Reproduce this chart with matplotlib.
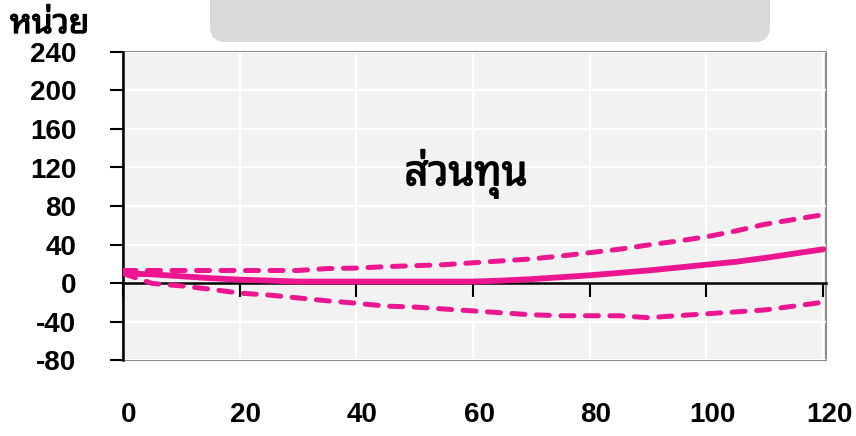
import matplotlib
matplotlib.use("Agg")
import matplotlib.pyplot as plt
import matplotlib.transforms as mtransforms
import matplotlib.patheffects as pe
from matplotlib.patches import FancyBboxPatch

# horizon (periods) and impulse response of equity with error bands
periods = [0, 5, 10, 15, 20, 25, 30, 35, 40, 45, 50, 55, 60,
           65, 70, 75, 80, 85, 90, 95, 100, 105, 110, 115, 120]
response = [10, 9, 7, 5, 3.5, 2.5, 1.5, 1.5, 1.5, 1.5, 1.5, 1.5, 1.5,
            2.5, 4, 6, 8, 10.5, 13, 16, 19, 22, 26, 30.5, 35]
upper = [13, 13, 13, 13, 13, 13, 13, 15, 15.5, 17, 18, 19, 21,
         23, 25, 28, 31.5, 35, 39.5, 43.5, 48, 54, 61, 66, 71]
lower = [10, -0.5, -3, -6.5, -10.5, -12.5, -15.5, -18.5, -21, -24, -25, -27, -29,
         -31, -33, -34, -34, -34, -36, -34, -32, -30, -28, -24, -20]

x_ticks = [0, 20, 40, 60, 80, 100, 120]
y_ticks = [-80, -40, 0, 40, 80, 120, 160, 200, 240]
unit_label = "หน่วย"
title = "ส่วนทุน"

pink = "#ec1790"
num_font = "Liberation Sans"
thai_font = ["Noto Sans Thai Looped", "Loma", "DejaVu Sans"]
# the looped Thai face only ships a regular weight here, so thicken it
heavy = [pe.withStroke(linewidth=1.0, foreground="black")]

fig = plt.figure(figsize=(8.56, 4.36), dpi=100)
ax = fig.add_axes([123 / 856, 76 / 436, 703 / 856, 308 / 436])

ax.set_xlim(0, 120.5)
ax.set_ylim(-80, 240)
ax.set_facecolor("#f2f2f2")
ax.patch.set_edgecolor("#8c8c8c")
ax.patch.set_linewidth(1.5)

ax.set_xticks(x_ticks)
ax.set_yticks(y_ticks)
ax.grid(True, color="white", linewidth=1.6)
ax.set_axisbelow(True)

for s in ["top", "right"]:
    ax.spines[s].set_visible(False)
ax.spines["left"].set_linewidth(1.8)
ax.spines["left"].set_color("black")
ax.spines["bottom"].set_position(("data", 0))
ax.spines["bottom"].set_linewidth(1.8)
ax.spines["bottom"].set_color("black")

ax.tick_params(axis="x", direction="out", length=10, width=1.5,
               labelbottom=False)
ax.tick_params(axis="y", direction="out", length=9.5, width=1.5, pad=24)
ax.set_yticklabels([str(v) for v in y_ticks], fontfamily=num_font,
                   fontweight="bold", fontsize=20)

ax.plot(periods, response, color=pink, linewidth=4.2,
        solid_capstyle="round", solid_joinstyle="round", zorder=4)
for band in (upper, lower):
    ax.plot(periods, band, color=pink, linewidth=3.6, dashes=(2.6, 2.3),
            dash_capstyle="round", zorder=4)

# x labels sit well below the plot area
trans = mtransforms.blended_transform_factory(ax.transData, fig.transFigure)
trans = trans + mtransforms.ScaledTranslation(6 / 100, 0, fig.dpi_scale_trans)
for v in x_ticks:
    fig.text(v, 21 / 436, str(v), transform=trans, ha="center", va="center",
             fontfamily=num_font, fontweight="bold", fontsize=20)

fig.text(10 / 856, 1 - 33 / 436, unit_label, ha="left", va="baseline",
         family=thai_font, fontsize=24, path_effects=heavy)
ax.text(0.488, 0.605, title, transform=ax.transAxes, ha="center",
        va="center", family=thai_font, fontsize=30, path_effects=heavy)

# rounded header box hanging from the top edge
box = FancyBboxPatch((210 / 856, 1 - 42 / 436), 560 / 856, 80 / 436,
                     boxstyle="round,pad=0,rounding_size=0.018",
                     transform=fig.transFigure, facecolor="#d9d9d9",
                     edgecolor="none", mutation_aspect=856 / 436)
fig.patches.append(box)

fig.savefig("out.png", dpi=100)
